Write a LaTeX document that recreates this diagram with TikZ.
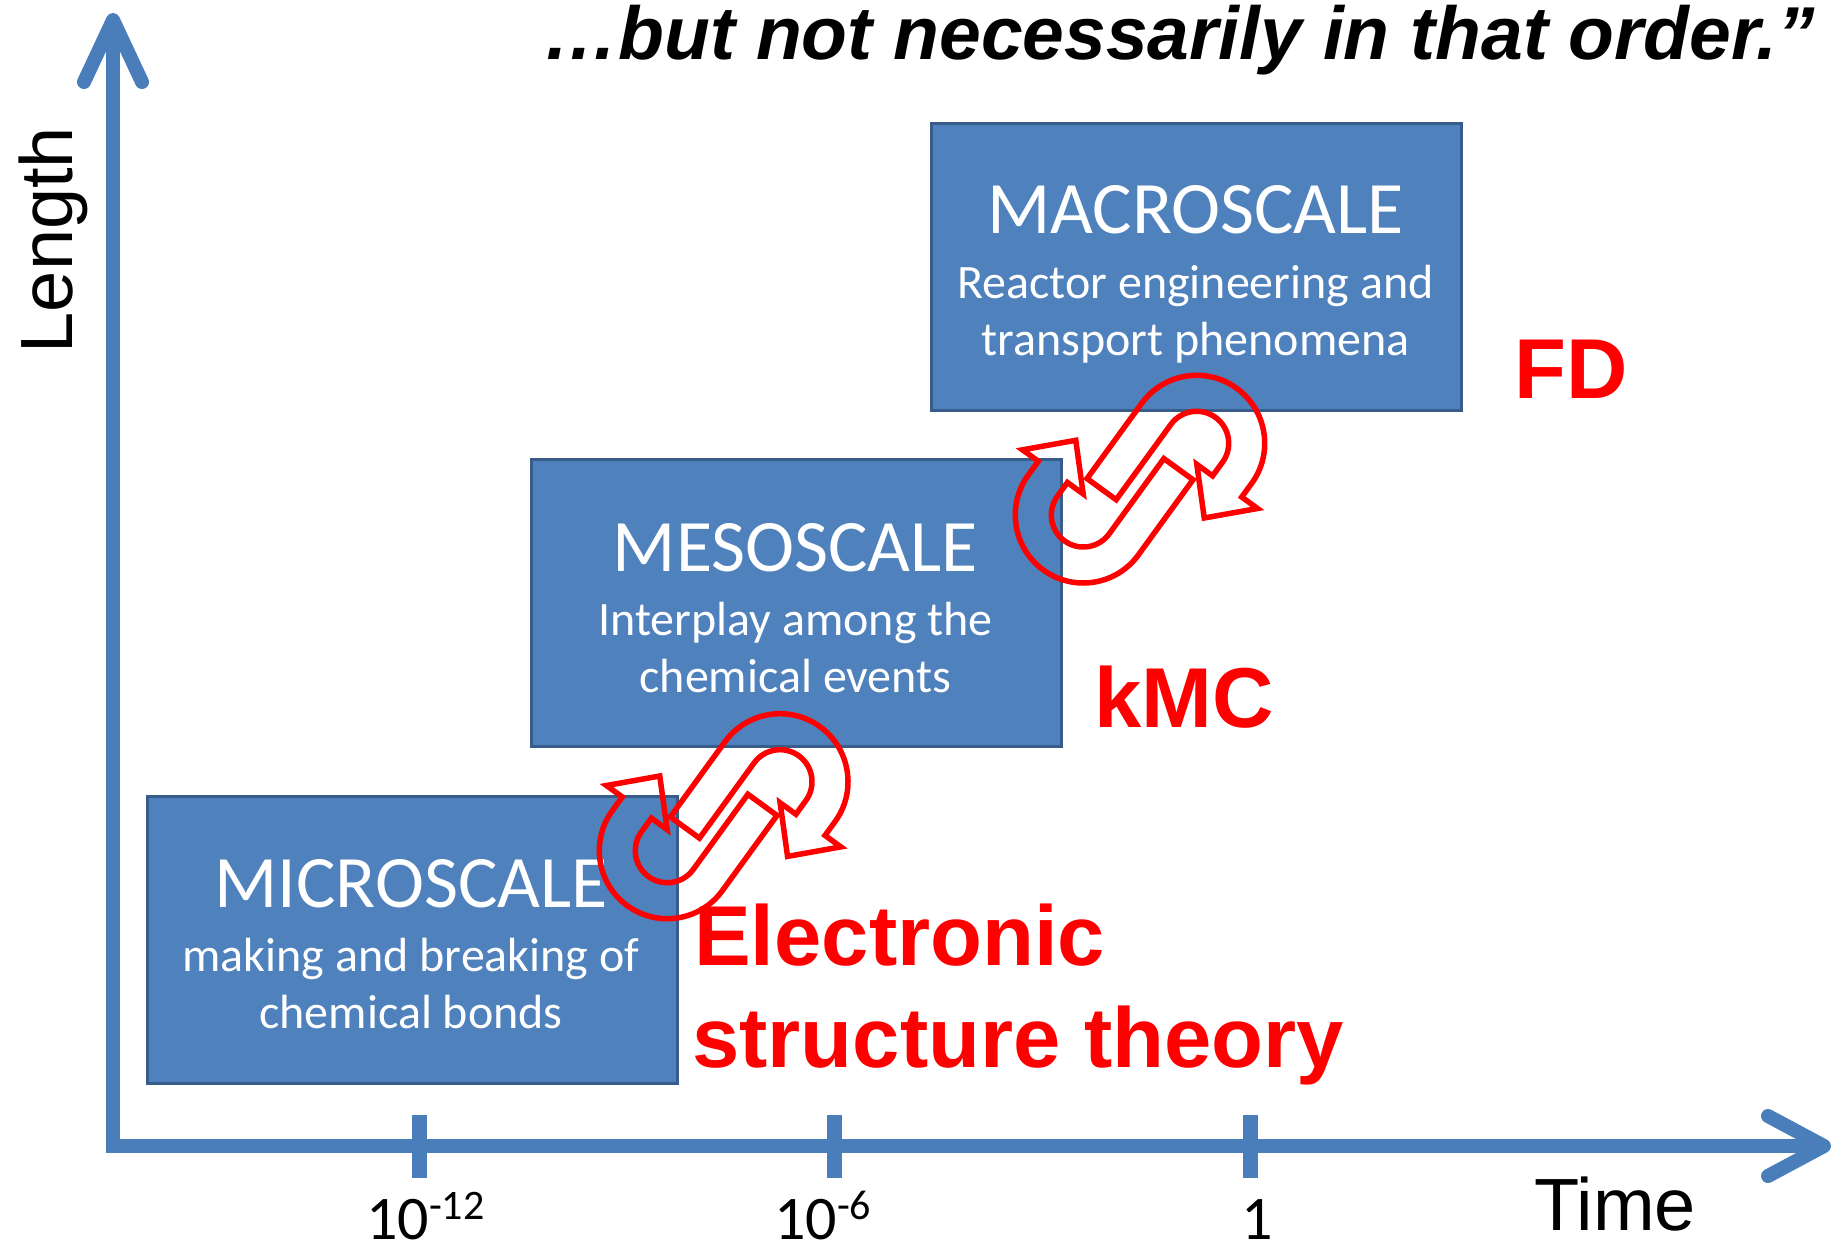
\documentclass[tikz,border=0pt]{standalone}
\usepackage{fontspec}
\setmainfont{Liberation Sans}
\newfontfamily\calib{Carlito}
\usetikzlibrary{calc}
\definecolor{axisblue}{HTML}{4A7EBB}
\definecolor{boxfill}{HTML}{4F81BD}
\definecolor{boxline}{HTML}{385D8A}
\definecolor{myred}{HTML}{FF0000}
\begin{document}
\begin{tikzpicture}[x=1pt,y=-1pt,
  axisline/.style={draw=axisblue,line width=14pt},
  axishead/.style={draw=axisblue,line width=14pt,line cap=round,line join=round},
  tickmark/.style={draw=axisblue,line width=15pt},
  scalerect/.style={draw=boxline,fill=boxfill,line width=3pt,inner sep=0pt,anchor=north west,minimum width=530pt,minimum height=287pt},
  boxtitle/.style={text=white,font=\calib\fontsize{74}{80}\selectfont,inner sep=0pt,anchor=base},
  boxsub/.style={text=white,font=\calib\fontsize{48}{56}\selectfont,inner sep=0pt,anchor=base},
  method/.style={text=myred,font=\bfseries\fontsize{85}{90}\selectfont,inner sep=0pt,anchor=base west},
  redband/.style={draw=myred,line width=5.5pt,line join=miter},
  ticklab/.style={font=\calib\fontsize{62}{62}\selectfont,inner sep=0pt},
  axislab/.style={font=\fontsize{74}{80}\selectfont,inner sep=0pt},
  uturn/.pic={
    \draw[redband] (-93,-68) -- (0,-68) arc[start angle=90,end angle=-90,radius=68pt]
      -- (-17,68) -- (-17,87.5) -- (-56,50) -- (-17,12.5) -- (-17,32) -- (0,32)
      arc[start angle=-90,end angle=90,radius=32pt] -- (-93,-32) -- cycle;
  }
]
\useasboundingbox (0,0) rectangle (1834,1252);

% axes
\coordinate (ybot) at (113,1153);
\coordinate (ytip) at (113,20);
\coordinate (xleft) at (106,1146);
\coordinate (xtip) at (1824,1146);
\draw[axisline] (ybot) -- (ytip);
\draw[axishead] ($(ytip)+(-29,62)$) -- (ytip) -- ($(ytip)+(29,62)$);
\draw[axisline] (xleft) -- (xtip);
\draw[axishead] ($(xtip)+(-56,-30)$) -- (xtip) -- ($(xtip)+(-56,30)$);

% ticks
\coordinate (t1a) at (419,1115); \coordinate (t1b) at (419,1178);
\coordinate (t2a) at (834,1115); \coordinate (t2b) at (834,1178);
\coordinate (t3a) at (1250,1115); \coordinate (t3b) at (1250,1178);
\draw[tickmark] (t1a) -- (t1b);
\draw[tickmark] (t2a) -- (t2b);
\draw[tickmark] (t3a) -- (t3b);

\node[ticklab,anchor=base west] (lab1) at (366,1239) {10\raisebox{20pt}{\fontsize{42}{42}\selectfont -12}};
\node[ticklab,anchor=base west] (lab2) at (774,1239) {10\raisebox{20pt}{\fontsize{42}{42}\selectfont -6}};
\node[ticklab,anchor=base] (lab3) at (1257,1239) {1};

\node[axislab,anchor=base west] (timelab) at (1534,1230) {Time};
\node[axislab,anchor=base,rotate=90] (lenlab) at (72,240) {Length};

% title
\node[font=\bfseries\itshape\fontsize{75}{80}\selectfont,inner sep=0pt,anchor=base east] (title) at (1815,60) {…but not necessarily in that order.”};

% boxes
\node[scalerect] (micro) at (146,795) {};
\node[scalerect] (meso) at (530,458) {};
\node[scalerect] (macro) at (930,122) {};

\node[boxtitle] (microT) at (411,907) {MICROSCALE};
\node[boxsub] (microS1) at (411,971) {making and breaking of};
\node[boxsub] (microS2) at (411,1028) {chemical bonds};

\node[boxtitle] (mesoT) at (795.5,571) {MESOSCALE};
\node[boxsub] (mesoS1) at (795.5,635) {Interplay among the};
\node[boxsub] (mesoS2) at (795.5,692) {chemical events};

\node[boxtitle] (macroT) at (1195.5,234) {MACROSCALE};
\node[boxsub] (macroS1) at (1195.5,298) {Reactor engineering and};
\node[boxsub] (macroS2) at (1195.5,355) {transport phenomena};

% method labels
\node[method] (fd) at (1514,398) {FD};
\node[method] (kmc) at (1094,727) {kMC};
\node[method] (est1) at (694,965) {Electronic};
\node[method] (est2) at (692,1067) {structure theory};

% interlocked u-turn arrows
\path (780,781.7) pic[rotate=54] {uturn};
\path (667.3,850.7) pic[rotate=234] {uturn};
\path (1196.7,443.3) pic[rotate=54] {uturn};
\path (1083.3,515) pic[rotate=234] {uturn};
\end{tikzpicture}
\end{document}
